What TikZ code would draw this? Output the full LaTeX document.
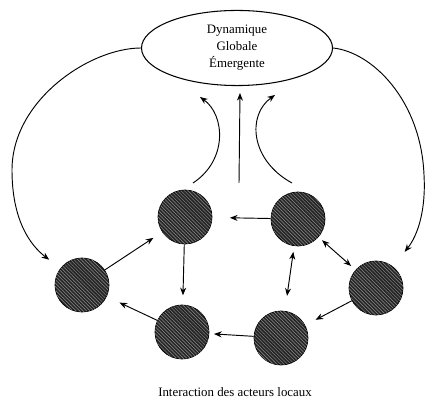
\documentclass[tikz,border=0pt]{standalone}
\usepackage{fontspec}
\setmainfont{Liberation Serif}
\usetikzlibrary{shapes.geometric,arrows.meta,patterns}

\tikzset{
  acteur/.style = {circle, minimum size=1.62cm, inner sep=0pt, fill=black!85,
    draw=black, line width=0.6pt,
    postaction={pattern=north west lines, pattern color=black!45}},
  fl/.style = {line width=0.8pt, -{Stealth[length=2.3mm,width=1.8mm]}},
  dfl/.style = {line width=0.8pt, {Stealth[length=2.3mm,width=1.8mm]}-{Stealth[length=2.3mm,width=1.8mm]}}
}

\begin{document}
\begin{tikzpicture}[x=0.03cm, y=0.03cm, font=\fontsize{11}{14.5}\selectfont]
\useasboundingbox (0,0) rectangle (427,400);
% dynamique globale
\node[draw, ellipse, line width=0.9pt, minimum width=5.73cm, minimum height=2.22cm,
  align=center] (dyn) at (237,352) {Dynamique\\Globale\\Émergente};
% acteurs locaux
\node[acteur] (actG)  at (82,115)  {};
\node[acteur] (actHG) at (185,183) {};
\node[acteur] (actHD) at (298,181) {};
\node[acteur] (actD)  at (376,112) {};
\node[acteur] (actBG) at (182,68)  {};
\node[acteur] (actBD) at (281,62)  {};
\node (legende) at (235,8) {Interaction des acteurs locaux};
% interactions
\draw[fl, shorten >=9pt] (actG) -- (actHG);
\draw[fl, shorten >=15pt] (actHD) -- (actHG);
\draw[fl, shorten >=8pt] (actHG) -- (actBG);
\draw[fl, shorten >=12pt] (actBG) -- (actG);
\draw[fl, shorten >=4pt] (actBD) -- (actBG);
\draw[fl, shorten >=10pt] (actD) -- (actBD);
\draw[dfl, shorten <=5pt, shorten >=13pt] (actHD) -- (actBD);
\draw[dfl, shorten <=4pt, shorten >=5pt] (actHD) -- (actD);
% emergence
\coordinate (emG0) at (193,217);
\coordinate (emG1) at (200,303);
\coordinate (emC0) at (239,217);
\coordinate (emC1) at (240,307);
\coordinate (emD0) at (292,217);
\coordinate (emD1) at (275,305);
\draw[fl] (emG0) .. controls (228,240) and (225,285) .. (emG1);
\draw[fl] (emC0) -- (emC1);
\draw[fl] (emD0) .. controls (250,240) and (247,285) .. (emD1);
% retroaction
\draw[fl, shorten >=12pt] (dyn.west) .. controls (90,352) and (12,300) .. (12,230)
  .. controls (12,180) and (30,155) .. (actG);
\draw[fl, shorten >=16pt] (dyn.east) .. controls (372,348) and (421,300) .. (424,225)
  .. controls (426,190) and (418,165) .. (actD);
\end{tikzpicture}
\end{document}
